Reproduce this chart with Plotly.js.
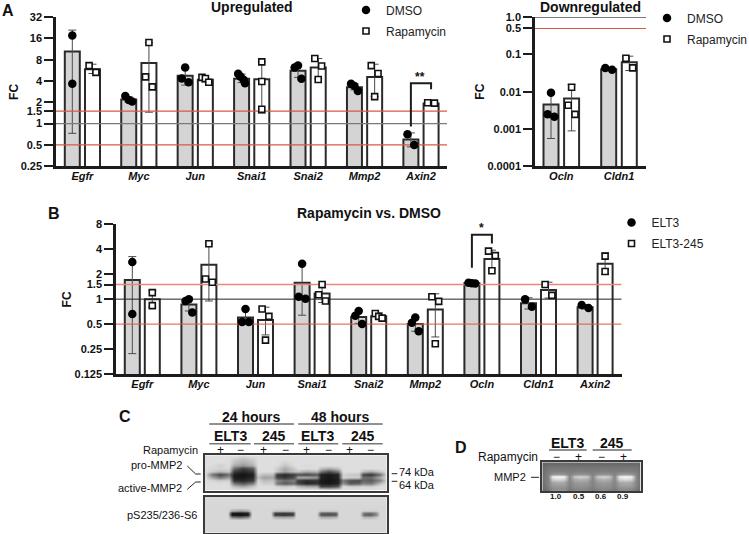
<!DOCTYPE html>
<html><head><meta charset="utf-8">
<script src="https://cdn.plot.ly/plotly-3.0.1.min.js"></script>
<style>html,body{margin:0;padding:0;background:#fff}</style></head>
<body><div id="chart" style="width:749px;height:534px"></div>
<script>
// ---------- data: panel A, upregulated ----------
const upGenes = ['Egfr','Myc','Jun','Snai1','Snai2','Mmp2','Axin2'];
const upDmsoMean = [10.4,2.2,4.73,4.3,5.57,3.27,0.595];
const upRapaMean = [5.87,7.15,4.15,4.23,6.2,4.57,1.92];
const upDmsoHi = [20.9,2.4,6.0,5.0,6.6,3.65,0.74];
const upDmsoLo = [0.73,2.0,3.5,3.8,4.5,3.0,0.47];
const upRapaHi = [6.9,14,4.5,7.45,8.3,6.9,2.0];
const upRapaLo = [5.1,1.45,3.85,1.4,4.3,2.41,1.85];
const upDmsoPts = [[17.5,3.65],[2.45,2.16,2.05],[6.2,4.33,3.84],[5.04,4.6,4.15,3.72],[6.6,6.2,4.3],[3.65,3.41,2.9],[0.71,0.5]];
const upRapaPts = [[6.6,5.3],[14,4.57,3.3],[4.5,4.33,3.84],[7.45,3.93,1.6],[8.3,6.5,4.2],[6.6,5.1,2.41],[1.97,1.95]];
const upDmsoSlots = [[0,0],[-1,0,1],[0,-1,1],[-1,-.3,.6,1],[0,-1,1],[-1,0,1],[-1,1]];
const upRapaSlots = [[-1,1],[0,-1,1],[-1,0,1],[0,0,0],[-1,1,0],[-1,1,0],[-1,1]];
const upTickVals = [32,16,8,4,2,1.5,1,0.5,0.25];
const upTickText = ['32','16','8','4','2','1.5','1','0.5','0.25'];
const upBracketY = [0.909,3.72,3.72,3.06];

// ---------- data: panel A, downregulated ----------
const downGenes = ['Ocln','Cldn1'];
const downDmsoMean = [0.0045,0.04];
const downRapaMean = [0.0065,0.062];
const downDmsoHi = [0.0094,0.044];
const downDmsoLo = [0.00055,0.038];
const downRapaHi = [0.0155,0.09];
const downRapaLo = [0.00088,0.037];
const downDmsoPts = [[0.0094,0.00245,0.0021],[0.0435,0.039]];
const downRapaPts = [[0.0131,0.0043,0.00245],[0.079,0.0435]];
const downDmsoSlots = [[0,-1,1],[-1,1]];
const downRapaSlots = [[0,-1,1],[-1,1]];
const downTickVals = [1,0.5,0.1,0.01,0.001,0.0001];
const downTickText = ['1.0','0.5','0.1','0.01','0.001','0.0001'];

// ---------- data: panel B ----------
const ratioGenes = ['Egfr','Myc','Jun','Snai1','Snai2','Mmp2','Ocln','Cldn1','Axin2'];
const ratioEltMean = [1.7,0.86,0.6,1.58,0.61,0.5,1.55,0.89,0.8];
const ratio245Mean = [1.0,2.6,0.56,1.17,0.62,0.75,3.05,1.29,2.68];
const ratioEltHi = [3.26,1.03,0.76,2.68,0.74,0.62,1.6,1.04,0.86];
const ratioEltLo = [0.22,0.72,0.52,0.64,0.51,0.41,1.52,0.76,0.76];
const ratio245Hi = [1.27,4.67,0.8,1.37,0.68,1.16,3.9,1.6,3.6];
const ratio245Lo = [0.8,0.95,0.37,0.91,0.58,0.35,2.3,1.03,2.0];
const ratioEltPts = [[2.8,0.66],[1.0,0.95,0.69],[0.76,0.53,0.53],[2.68,1.07,1.01],[0.72,0.63,0.5],[0.6,0.52,0.41],[1.58,1.56,1.54],[1.0,0.81],[0.85,0.78]];
const ratio245Pts = [[1.2,0.835],[4.67,1.75,1.6],[0.76,0.62,0.32],[1.5,1.13,0.95],[0.67,0.62,0.59],[1.07,0.94,0.29],[3.8,3.35,2.2],[1.5,1.11],[3.3,2.16]];
const ratioEltSlots = [[0,0],[0,-1,1],[0,-1,1],[0,-1,1],[0,-1,1],[0,-1,1],[-1,0,1],[-1,1],[-1,1]];
const ratio245Slots = [[0,0],[0,-1,1],[-1,1,0],[0,-1,1],[-1,0,1],[-1,1,0],[-1,1,0],[-1,1],[0,0]];
const ratioTickVals = [8,4,2,1.5,1,0.5,0.25,0.125];
const ratioTickText = ['8','4','2','1.5','1','0.5','0.25','0.125'];
const ratioBracketY = [2.4,6.0,6.0,4.7];

// ---------- data: blots, grey level of each band read at lane / row ----------
const blotCols = [205,212,220,229,234,243,253,258,264,273,277,285,294,298,307,317,321,329,338,343,350,359,363,371,380,387];
const blotRows = [456,459,462,465,468,471,474,477,480,483,486,489];
const blotMmp2 = [
[222,222,222,222,222,212,222,222,222,222,222,222,222,222,222,222,222,222,222,222,222,222,222,222,222,222],
[222,222,222,222,205,190,205,222,222,222,222,222,222,222,222,222,222,222,222,222,222,222,222,222,222,222],
[222,222,222,222,195,175,195,222,222,222,222,212,222,222,222,222,222,222,222,222,222,222,222,222,222,222],
[222,222,205,222,170,150,175,222,222,222,222,195,222,222,218,222,222,222,222,222,222,222,222,222,222,222],
[222,215,212,215,110,60,90,222,222,222,205,170,200,222,222,222,190,170,195,222,222,222,222,222,222,222],
[222,205,185,200,60,40,60,222,222,222,200,160,195,195,170,185,120,80,120,222,222,222,190,170,200,222],
[222,120,70,110,30,20,30,210,190,190,60,40,60,80,70,90,30,25,35,210,200,200,70,50,110,222],
[222,170,120,160,30,25,40,190,160,165,70,55,80,170,170,150,35,25,35,212,205,205,110,110,170,222],
[222,215,205,210,50,40,60,215,190,195,140,110,130,60,40,50,25,20,30,120,80,70,100,90,130,215],
[222,222,222,222,120,90,130,222,205,210,120,90,110,70,40,50,30,25,35,150,90,100,130,120,190,222],
[222,222,222,222,190,170,200,222,222,222,215,205,215,190,170,170,70,70,90,222,210,210,215,210,222,222],
[222,222,222,222,222,222,222,222,222,222,222,222,222,222,222,222,215,205,215,222,222,222,222,222,222,222]];
const s6Cols = [205,228,232,240,248,252,271,275,284,293,296,317,321,328,336,339,360,364,370,376,380,387];
const s6Rows = [497,508,511,513,515,517,520,533];
const blotS6 = [
[218,218,218,218,218,218,218,218,218,218,218,218,218,218,218,218,218,218,218,218,218,218],
[215,215,215,215,215,215,215,215,215,215,215,215,215,215,215,215,215,215,215,215,215,215],
[215,215,170,150,170,215,215,200,195,200,215,215,205,205,205,215,215,210,210,210,215,215],
[215,215,30,25,35,215,215,70,60,70,215,215,100,90,100,215,215,120,110,140,215,215],
[215,215,20,15,25,215,215,60,50,60,215,215,85,80,85,215,215,100,90,130,215,215],
[215,215,120,100,130,215,215,170,160,170,215,215,170,165,175,215,215,180,175,195,215,215],
[215,215,215,215,215,215,215,215,215,215,215,215,215,215,215,215,215,215,215,215,215,215],
[215,215,215,215,215,215,215,215,215,215,215,215,215,215,215,215,215,215,215,215,215,215]];
const gelCols = [542,548,552,558,564,569,574,580,587,592,597,603,609,614,619,625,631,636,641];
const gelRows = [463,467,471,474,476.5,479,482,485,488,491];
const gelMmp2 = [
[100,105,105,105,105,105,105,105,105,105,105,105,105,105,105,105,105,105,100],
[105,118,118,118,118,118,118,118,118,118,118,118,118,118,118,118,118,118,105],
[110,125,128,128,128,125,128,128,128,125,128,128,128,125,128,128,128,125,110],
[112,130,150,155,150,130,145,148,145,130,145,148,145,130,155,160,155,130,112],
[112,132,240,250,240,132,200,212,200,132,200,212,200,132,240,250,240,132,112],
[112,132,205,215,205,132,170,178,170,132,170,178,170,132,210,220,210,132,112],
[112,132,165,172,165,132,152,158,152,132,152,158,152,132,165,172,165,132,112],
[110,130,155,158,155,130,145,148,145,130,145,148,145,130,158,162,158,130,110],
[105,125,140,142,140,125,134,137,134,125,134,137,134,125,140,142,140,125,105],
[95,112,150,155,150,112,132,136,132,112,128,132,128,112,132,136,132,112,95]];

// ---------- drawing ----------
const W = 749, H = 534;
const FONT = '"Liberation Sans", Arial, Helvetica, sans-serif';
const INK = '#1c1c1c', RED = '#d9583f';
const fx = px => px / W, fy = py => 1 - py / H;

const traces = [], annotations = [], shapes = [];

function panel(o) {
  const k = o.suffix, xa = 'x' + k, ya = 'y' + k;
  const unit = o.period, half = o.spacing / 2 / unit, barW = 15 / unit, step = 3.4 / unit;
  const idx = o.genes.map((_, i) => i);
  const xLo = (o.left - o.center0) / unit, xHi = (o.right - o.center0) / unit;
  const series = [
    {name:o.names[0], mean:o.mean0, hi:o.hi0, lo:o.lo0, pts:o.pts0, slots:o.slots0, off:-half, fill:'#d4d4d4', sym:'circle', size:8.5, mfill:'#000', mline:0},
    {name:o.names[1], mean:o.mean1, hi:o.hi1, lo:o.lo1, pts:o.pts1, slots:o.slots1, off:half, fill:'#ffffff', sym:'square', size:6, mfill:'#fff', mline:1.6}
  ];
  series.forEach(s => {
    traces.push({type:'bar', xaxis:xa, yaxis:ya, x:idx.map(i => i + s.off), y:s.mean, width:barW, showlegend:false, hoverinfo:'skip',
      marker:{color:s.fill, line:{color:'#2a2a2a', width:2}},
      error_y:{type:'data', symmetric:false, array:s.hi.map((v,i)=>v-s.mean[i]), arrayminus:s.lo.map((v,i)=>s.mean[i]-v), color:'#4a4a4a', thickness:1, width:4}});
  });
  o.levels.forEach(l => {
    traces.push({type:'scatter', mode:'lines', xaxis:xa, yaxis:ya, x:[xLo,xHi], y:[l.v,l.v], showlegend:false, hoverinfo:'skip', line:{color:l.c, width:l.w}, opacity:l.o||1});
  });
  series.forEach((s, n) => {
    const xs = [], ys = [];
    s.pts.forEach((list, i) => list.forEach((v, j) => { xs.push(i + s.off + s.slots[i][j] * step); ys.push(v); }));
    traces.push({type:'scatter', mode:'markers', xaxis:xa, yaxis:ya, x:xs, y:ys, name:s.name, legend:o.legend, legendgroup:o.legend + n, showlegend:true, hoverinfo:'skip',
      marker:{symbol:s.sym, size:s.size, color:s.mfill, line:{color:'#111', width:s.mline}}});
  });
  if (o.bracket) {
    const g = o.bracket.gene;
    traces.push({type:'scatter', mode:'lines', xaxis:xa, yaxis:ya, x:[g-half,g-half,g+half,g+half], y:o.bracket.y, showlegend:false, hoverinfo:'skip', line:{color:INK, width:2}});
  }
  layout['xaxis' + k] = {domain:[fx(o.left), fx(o.right)], range:[xLo,xHi], anchor:ya, showgrid:false, zeroline:false, showline:true, linecolor:INK, linewidth:2.5,
    tickmode:'array', tickvals:idx, ticktext:o.genes, ticks:'', ticklabelstandoff:-2, tickfont:{family:FONT, size:11, weight:'bold', style:'italic', color:'#111'}};
  layout['yaxis' + k] = {domain:[fy(o.bottom), fy(o.top)], type:'log', range:[Math.log10(o.ymin), Math.log10(o.ymax)], anchor:xa, showgrid:false, zeroline:false, showline:true, linecolor:INK, linewidth:2.5,
    tickmode:'array', tickvals:o.tickVals, ticktext:o.tickText, ticks:'outside', ticklen:9, tickwidth:2, tickcolor:INK, tickfont:{family:FONT, size:11, weight:'bold', color:'#111'}};
  annotations.push({text:'<b>FC</b>', xref:'paper', yref:'paper', x:fx(o.titleX), y:fy((o.top + o.bottom) / 2), textangle:-90, showarrow:false, xanchor:'center', yanchor:'middle', font:{family:FONT, size:12, color:'#111'}});
}

function blot(k, xs, ys, z, box) {
  traces.push({type:'heatmap', xaxis:'x'+k, yaxis:'y'+k, x:xs, y:ys, z:z, zmin:0, zmax:255, zsmooth:'best', showscale:false, hoverinfo:'skip',
    colorscale:[[0,'#000000'],[1,'#ffffff']]});
  layout['xaxis'+k] = {domain:[fx(box[0]), fx(box[1])], range:[box[0],box[1]], anchor:'y'+k, showgrid:false, zeroline:false, showticklabels:false, ticks:'', showline:true, mirror:true, linecolor:'#3a3a3a', linewidth:1.5};
  layout['yaxis'+k] = {domain:[fy(box[3]), fy(box[2])], range:[box[3],box[2]], anchor:'x'+k, showgrid:false, zeroline:false, showticklabels:false, ticks:'', showline:true, mirror:true, linecolor:'#3a3a3a', linewidth:1.5};
}

function label(text, x, y, size, opts) {
  annotations.push(Object.assign({text, xref:'paper', yref:'paper', x:fx(x), y:fy(y), showarrow:false, xanchor:'center', yanchor:'middle',
    borderpad:0, font:{family:FONT, size, color:'#111'}}, opts||{}));
}
const bold = (text,x,y,size,opts) => label('<b>'+text+'</b>',x,y,size,opts);
function rule(x0,y0,x1,y1,color,width) {
  shapes.push({type:'line', xref:'paper', yref:'paper', x0:fx(x0), y0:fy(y0), x1:fx(x1), y1:fy(y1), line:{color, width}});
}

const legendBase = {bgcolor:'rgba(0,0,0,0)', borderwidth:0, xanchor:'left', yanchor:'top', tracegroupgap:2, font:{family:FONT, size:12, color:'#222'}, itemclick:false, itemdoubleclick:false};
const layout = {
  width:W, height:H, margin:{l:0,r:0,t:0,b:0,autoexpand:false}, paper_bgcolor:'#fff', plot_bgcolor:'rgba(0,0,0,0)', barmode:'overlay', font:{family:FONT},
  legend:Object.assign({x:fx(346), y:fy(-4.5)}, legendBase),
  legend2:Object.assign({x:fx(647), y:fy(3.5)}, legendBase),
  legend3:Object.assign({x:fx(611.5), y:fy(208)}, legendBase)
};

panel({suffix:'', genes:upGenes, names:['DMSO','Rapamycin'], legend:'legend', mean0:upDmsoMean, mean1:upRapaMean, hi0:upDmsoHi, lo0:upDmsoLo, hi1:upRapaHi, lo1:upRapaLo,
  pts0:upDmsoPts, pts1:upRapaPts, slots0:upDmsoSlots, slots1:upRapaSlots, left:56, right:447, top:17, bottom:166.3, ymin:0.25, ymax:32, center0:82.4, period:56.43, spacing:20.2,
  tickVals:upTickVals, tickText:upTickText, titleX:13.3,
  levels:[{v:1.5,c:RED,w:1.2},{v:0.5,c:RED,w:1.2},{v:1,c:'#7a7a7a',w:1.4}], bracket:{gene:6, y:upBracketY}});
panel({suffix:'2', genes:downGenes, names:['DMSO','Rapamycin'], legend:'legend2', mean0:downDmsoMean, mean1:downRapaMean, hi0:downDmsoHi, lo0:downDmsoLo, hi1:downRapaHi, lo1:downRapaLo,
  pts0:downDmsoPts, pts1:downRapaPts, slots0:downDmsoSlots, slots1:downRapaSlots, left:535, right:646, top:17.3, bottom:166, ymin:0.0001, ymax:1, center0:561.3, period:57.7, spacing:20.6,
  tickVals:downTickVals, tickText:downTickText, titleX:480,
  levels:[{v:0.5,c:RED,w:1},{v:1,c:'#222',w:1}]});
panel({suffix:'3', genes:ratioGenes, names:['ELT3','ELT3-245'], legend:'legend3', mean0:ratioEltMean, mean1:ratio245Mean, hi0:ratioEltHi, lo0:ratioEltLo, hi1:ratio245Hi, lo1:ratio245Lo,
  pts0:ratioEltPts, pts1:ratio245Pts, slots0:ratioEltSlots, slots1:ratio245Slots, left:116, right:621.7, top:224.3, bottom:374, ymin:0.125, ymax:8, center0:142.3, period:56.6, spacing:20,
  tickVals:ratioTickVals, tickText:ratioTickText, titleX:67.3,
  levels:[{v:1.5,c:'#e8887a',w:1.6},{v:0.5,c:RED,w:1},{v:1,c:'#222',w:1}], bracket:{gene:6, y:ratioBracketY}});

blot('4', blotCols, blotRows, blotMmp2, [204.7,386.7,455.3,490.7]);
blot('5', s6Cols, s6Rows, blotS6, [204.7,386.7,496.7,532.7]);
blot('6', gelCols, gelRows, gelMmp2, [542.3,640.7,462.3,491]);

// panel letters and titles
bold('A',7.5,10,16); bold('B',53.7,213.3,16); bold('C',125,416,16); bold('D',460.5,447,16);
bold('Upregulated',251.7,7,14); bold('Downregulated',590,7,14); bold('Rapamycin vs. DMSO',369,213.3,14);
bold('**',420,77,12); bold('*',481,228,12);

// panel C text
bold('24 hours',251.7,416.7,14); bold('48 hours',340,416.7,14);
[['ELT3',230],['245',274],['ELT3',317.3],['245',362.7]].forEach(a => bold(a[0],a[1],436,14));
label('Rapamycin',198.7,450,11,{xanchor:'right'});
[['+',220],['−',240.7],['+',263.3],['−',285],['+',306.7],['−',328],['+',349],['−',370]].forEach(a => label(a[0],a[1],449.5,12));
label('pro-MMP2',183.3,465.3,11,{xanchor:'right'});
label('active-MMP2',183,487.7,11,{xanchor:'right'});
label('pS235/236-S6',198.3,514.7,11,{xanchor:'right'});
label('74 kDa',398.3,471.7,11,{xanchor:'left'});
label('64 kDa',398.3,484.7,11,{xanchor:'left'});
rule(209.3,424,294,424,'#222',1); rule(298.3,424,382.7,424,'#222',1);
[[209.3,250.7],[254,294],[298.3,338.3],[342.3,382.7]].forEach(a => rule(a[0],443.7,a[1],443.7,'#777',1.6));
rule(187.3,466,195.7,474,'#222',1); rule(195.7,474,200.7,474,'#222',1);
rule(187.3,489.3,195.7,482,'#222',1); rule(195.7,482,200.7,482,'#222',1);
rule(391.7,473.7,397.3,473.7,'#222',1); rule(391.7,481.3,397.3,481.3,'#222',1);

// panel D text
bold('ELT3',567.7,443.3,14); bold('245',612,443.3,14);
rule(549,450,586.7,450,'#222',1); rule(592.7,450,631.7,450,'#222',1);
label('Rapamycin',539.3,456.7,12,{xanchor:'right'});
[['−',556],['+',578],['−',601],['+',623.3]].forEach(a => label(a[0],a[1],457.2,12));
label('MMP2',527.3,477.3,11,{xanchor:'right'});
rule(531,477.3,539,477.3,'#222',1);
[['1.0',556.3],['0.5',579],['0.6',601],['0.9',623]].forEach(a => bold(a[0],a[1],496.7,8));

layout.annotations = annotations;
layout.shapes = shapes;
Plotly.newPlot('chart', traces, layout, {displayModeBar:false, responsive:false});
</script></body></html>
